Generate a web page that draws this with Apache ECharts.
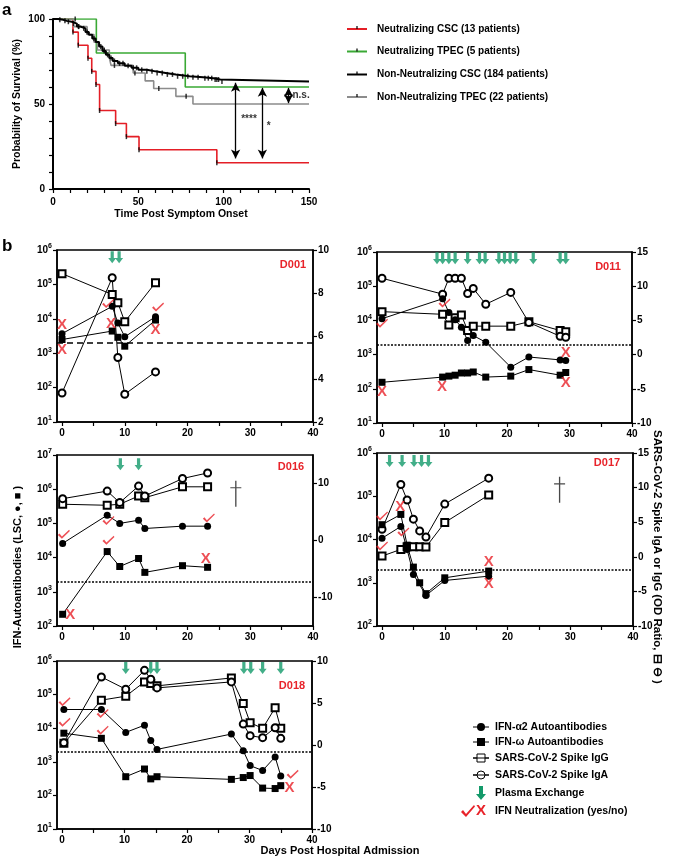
<!DOCTYPE html>
<html><head><meta charset="utf-8">
<script src="https://cdn.jsdelivr.net/npm/echarts@6/dist/echarts.min.js"></script>
<style>html,body{margin:0;padding:0;background:#fff}#c{width:677px;height:861px}</style>
</head><body><div id="c"></div>
<script>
const FONT = '"Liberation Sans", Arial, sans-serif';

// ---------------- Panel a: Kaplan-Meier data ([time, survival %]) ----------------
const redKM   = [[0,100],[11.7,92.3],[14.8,84.6],[20.5,76.9],[22.7,69.2],[25.2,61.5],[27.3,46.2],[36.7,38.5],[43,30.8],[50.4,23.1],[96,15.4],[150,15.4]];
const greenKM = [[0,100],[25.4,80],[77.5,60],[150,60]];
const blackKM = [[0,100],[3,99.5],[6,98.9],[8,98.4],[11,97.3],[14,95.6],[16,94.5],[19,92.3],[21,90.7],[23,88.6],[25,86.5],[27,83.8],[29,81.2],[31,78.9],[33,77],[35,75.3],[38,73.9],[42,72.5],[46,71.3],[50,70.1],[55,69.2],[60,68.3],[66,67.4],[72,66.3],[80,65.8],[88,65.2],[94,64.4],[98,63.3],[150,63.3]];
const grayKM  = [[0,100],[12,95.5],[20,90.9],[24,86.4],[26,81.8],[33,77.3],[34,72.7],[47,68.2],[54,63.6],[59,59.1],[72,54.5],[82,50],[150,50]];
const blackCensor = [4,7,9,12,15,18,20,24,28,30,32,34,36,39,41,44,47,49,52,55,58,61,64,67,70,73,76,79,82,85,89,91,93,95,96,97,99];
const grayCensor = [15,30,36,48,62,78];
const greenCensor = [13];
const redCensor = [11.7,14.8,20.5,22.7,25.2,27.3,36.7,43,50.4,96];
const kmNames = ['Neutralizing CSC (13 patients)','Neutralizing TPEC (5 patients)','Non-Neutralizing CSC (184 patients)','Non-Neutralizing TPEC (22 patients)'];
const sigLabels = [[110,41,'****'],[125,37,'*'],[140,55,'n.s.']];

// ---------------- Panel b data ([day, value]) ----------------
const d001Alpha = [[0,3700],[8,23000],[8.9,7600],[10,3000],[14.9,11500]];
const d001Omega = [[0,2500],[8,4400],[8.9,2900],[10,1600],[14.9,9200]];
const d001IgG   = [[0,8.9],[8,7.93],[8.9,7.55],[10,6.66],[14.9,8.48]];
const d001IgA   = [[0,3.35],[8,8.71],[8.9,5.0],[10,3.29],[14.9,4.33]];
const d001PE    = [8.0,9.1];
const d001Check = [[7.35,28000],[15.3,22000]];
const d001X     = [[0,6600],[0,1230],[7.8,7300],[14.9,4700]];

const d011Alpha = [[0,11200],[9.7,43000],[10.7,17000],[11.7,10500],[12.7,6300],[13.7,2600],[14.6,3600],[16.6,2300],[20.6,430],[23.5,850],[28.5,700],[29.4,670]];
const d011Omega = [[0,155],[9.7,220],[10.7,235],[11.7,250],[12.7,290],[13.7,290],[14.6,310],[16.6,220],[20.6,235],[23.5,365],[28.5,250],[29.4,300]];
const d011IgG   = [[0,6.28],[9.7,5.89],[10.7,4.31],[11.7,5.39],[12.7,5.79],[13.7,3.52],[14.6,4.16],[16.6,4.16],[20.6,4.16],[23.5,4.8],[28.5,3.52],[29.4,3.33]];
const d011IgA   = [[0,11.16],[9.7,8.84],[10.7,11.16],[11.7,11.16],[12.7,11.16],[13.7,8.94],[14.6,9.68],[16.6,7.36],[20.6,9.09],[23.5,4.7],[28.5,2.68],[29.4,2.54]];
const d011PE    = [8.8,9.7,10.7,11.7,13.7,15.6,16.5,18.7,19.6,20.5,21.4,24.2,28.5,29.4];
const d011Check = [[0,8300],[10,32000]];
const d011X     = [[0,83],[9.6,112],[29.4,1100],[29.4,148]];

const d016Alpha = [[0.1,26000],[7.2,174000],[9.2,100000],[12.2,124000],[13.2,71000],[19.2,83000],[23.2,83000]];
const d016Omega = [[0.1,220],[7.2,15000],[9.2,5500],[12.2,9400],[13.2,3700],[19.2,5800],[23.2,5200]];
const d016IgG   = [[0.1,6.36],[7.2,6.18],[9.2,6.36],[12.2,7.8],[13.2,7.51],[19.2,9.42],[23.2,9.42]];
const d016IgA   = [[0.1,7.34],[7.2,8.67],[9.2,6.65],[12.2,9.54],[13.2,7.8],[19.2,10.87],[23.2,11.85]];
const d016PE    = [9.3,12.2];
const d016Check = [[0.3,48000],[7.4,122000],[7.4,32000],[23.4,145000]];
const d016X     = [[1.3,205],[22.9,9300]];
const d016Death = [[27.7,740000]];

const d017Alpha = [[0,10700],[3,20000],[4,5900],[5,1560],[7,510],[10,1130],[17,1420]];
const d017Omega = [[0,22000],[3,38000],[4,7400],[5,2300],[6,1000],[7,560],[10,1300],[17,1860]];
const d017IgG   = [[0,0.1],[3,1.07],[4,1.46],[5,1.46],[6,1.46],[7,1.41],[10,4.95],[17,8.93]];
const d017IgA   = [[0,3.98],[3,10.44],[4,8.2],[5,5.44],[6,3.74],[7,2.86],[10,7.62],[17,11.36]];
const d017PE    = [1.2,3.2,5.1,6.3,7.4];
const d017Check = [[0,35000],[0,7100],[3.4,15000]];
const d017X     = [[2.9,56000],[17,3100],[17,930]];
const d017Death = [[28.3,141000]];

const d018Alpha = [[0.3,36000],[6.3,36000],[10.2,7500],[13.2,12300],[14.2,4300],[15.2,2340],[27.1,6700],[29,2140],[30.1,770],[32.1,550],[34.1,1400],[35,380]];
const d018Omega = [[0.3,7100],[6.3,5000],[10.2,360],[13.2,610],[14.2,310],[15.2,360],[27.1,300],[29,340],[30.1,390],[32.1,165],[34.1,160],[35,195]];
const d018IgG   = [[0.3,0.2],[6.3,5.34],[10.2,5.81],[13.2,7.51],[14.2,7.31],[15.2,7.04],[27.1,7.98],[29,4.94],[30.1,2.65],[32.1,1.98],[34.1,4.43],[35,1.98]];
const d018IgA   = [[0.3,0.28],[6.3,8.1],[10.2,6.64],[13.2,8.89],[14.2,7.83],[15.2,6.8],[27.1,7.51],[29,2.49],[30.1,1.11],[32.1,0.87],[34.1,2.06],[35,0.79]];
const d018PE    = [10.2,14.2,15.2,29.1,30.2,32.1,35.0];
const d018Check = [[0.4,61000],[0.4,15000],[6.5,27500],[6.5,8700],[36.9,425]];
const d018X     = [[36.4,165]];

const threshold = 2000;
const xTicks = [0,5,10,15,20,25,30,35,40];
const xLabels = [0,10,20,30,40];
const legendBNames = ['IFN-\u03b12 Autoantibodies','IFN-\u03c9 Autoantibodies','SARS-CoV-2 Spike IgG','SARS-CoV-2 Spike IgA','Plasma Exchange','IFN Neutralization (yes/no)'];

// ---------------- Build ----------------
const RED = '#e41e26', GREEN = '#3aa935', GRAY = '#8c8c8c', TEAL = '#139a6a', MARKRED = '#e8232a';
const CHECK = 'path://M0,7 L2,5 L5,9 L14,0 L15,1.5 L5,12 Z';
const DOWN = 'path://M3,0 H7 V8 H10 L5,14 L0,8 H3 Z';
const DAGGER = 'path://M4.4,0 H5.6 V28 H4.4 Z M0,7 H10 V8.2 H0 Z';

function kmAt(km, t){ let s = km[0][1]; for (const p of km){ if (p[0] <= t) s = p[1]; else break; } return s; }

const grid = [], xAxis = [], yAxis = [], series = [];
const axLine = {show:true, onZero:false, lineStyle:{color:'#000', width:1.5}};
const axTick = {show:true, length:4, lineStyle:{color:'#000', width:1.2}};
const lab = {color:'#000', fontWeight:'bold', fontSize:10, fontFamily:FONT};

// Panel a
grid.push({left:53, top:19, width:256, height:170});
xAxis.push({gridIndex:0, type:'value', min:0, max:150, interval:10, axisLine:{show:true,onZero:false,lineStyle:{color:'#000',width:2}}, axisTick:axTick, splitLine:{show:false},
  axisLabel:Object.assign({}, lab, {formatter: v => (v % 50 === 0 ? String(v) : '')}),
  name:'Time Post Symptom Onset', nameLocation:'middle', nameGap:20, nameTextStyle:{color:'#000', fontWeight:'bold', fontSize:10.5, fontFamily:FONT}});
yAxis.push({gridIndex:0, type:'value', min:0, max:100, interval:10, axisLine:{show:true,onZero:false,lineStyle:{color:'#000',width:2}}, axisTick:axTick, splitLine:{show:false},
  axisLabel:Object.assign({}, lab, {formatter: v => (v % 50 === 0 ? String(v) : '')}),
  name:'Probability of Survival (%)', nameLocation:'middle', nameGap:30, nameRotate:90, nameTextStyle:{color:'#000', fontWeight:'bold', fontSize:10.5, fontFamily:FONT}});

const kmSets = [[redKM, RED, 1.6],[greenKM, GREEN, 1.6],[grayKM, GRAY, 1.6],[blackKM, '#000', 2]];
kmSets.forEach(([km, col, w]) => {
  series.push({type:'line', xAxisIndex:0, yAxisIndex:0, step:'end', data:km, showSymbol:false, symbol:'none',
    lineStyle:{color:col, width:w}, z:3});
});
[[blackCensor, blackKM],[grayCensor, grayKM],[greenCensor, greenKM],[redCensor, redKM]].forEach(([cs, km]) => {
  series.push({type:'scatter', xAxisIndex:0, yAxisIndex:0, symbol:'rect', symbolSize:[1.5,5],
    itemStyle:{color:'#000'}, data: cs.map(t => [t, kmAt(km, t)]), z:4});
});
series.push({type:'scatter', xAxisIndex:0, yAxisIndex:0, symbolSize:1, itemStyle:{color:'rgba(0,0,0,0)'},
  data: sigLabels,
  label:{show:true, position:'right', distance:0, formatter: p => p.value[2], color:'#000', fontWeight:'bold', fontSize:10, fontFamily:FONT},
  markLine:{silent:true, symbol:['arrow','arrow'], symbolSize:[7,9], label:{show:false},
    lineStyle:{color:'#000', width:1.3, type:'solid'},
    data:[[{coord:[107,62.5]},{coord:[107,18]}],[{coord:[122.7,59.5]},{coord:[122.7,18]}],[{coord:[138,59.5]},{coord:[138,50.5]}]]}
});

// Panel b
const panels = [
  {id:'D001', g:{left:57,top:250,width:256,height:172}, lmin:1e1, lmax:1e6, rmin:2, rmax:10, rint:2, a:d001Alpha, o:d001Omega, gg:d001IgG, ga:d001IgA, pe:d001PE, peY:6.2e5, ck:d001Check, xx:d001X, dash:[6,4], lp:[293,265]},
  {id:'D011', g:{left:377,top:252,width:255,height:171}, lmin:1e1, lmax:1e6, rmin:-10, rmax:15, rint:5, a:d011Alpha, o:d011Omega, gg:d011IgG, ga:d011IgA, pe:d011PE, peY:6.6e5, ck:d011Check, xx:d011X, dash:[2,1.5], lp:[608,267]},
  {id:'D016', g:{left:57,top:455,width:256,height:171}, lmin:1e2, lmax:1e7, rmin:-15, rmax:15, rcustom:[-10,0,10], a:d016Alpha, o:d016Omega, gg:d016IgG, ga:d016IgA, pe:d016PE, peY:5.4e6, ck:d016Check, xx:d016X, death:d016Death, dash:[2,1.5], lp:[291,467]},
  {id:'D017', g:{left:377,top:453,width:256,height:173}, lmin:1e2, lmax:1e6, rmin:-10, rmax:15, rint:5, a:d017Alpha, o:d017Omega, gg:d017IgG, ga:d017IgA, pe:d017PE, peY:6.5e5, ck:d017Check, xx:d017X, death:d017Death, dash:[2,1.5], lp:[607,463]},
  {id:'D018', g:{left:57,top:661,width:255,height:168}, lmin:1e1, lmax:1e6, rmin:-10, rmax:10, rint:5, a:d018Alpha, o:d018Omega, gg:d018IgG, ga:d018IgA, pe:d018PE, peY:6.2e5, ck:d018Check, xx:d018X, dash:[2,1.5], lp:[292,686]}
];

const richLog = {
  b:{fontSize:10, fontWeight:'bold', color:'#000', fontFamily:FONT},
  e:{fontSize:7, fontWeight:'bold', color:'#000', fontFamily:FONT, padding:[0,0,7,0]}
};

panels.forEach((p, k) => {
  const gi = k + 1;
  grid.push(Object.assign({show:true, borderColor:'#000', borderWidth:1.5, backgroundColor:'transparent'}, p.g));
  xAxis.push({gridIndex:gi, type:'value', min:-0.8, max:40, axisLine:axLine, splitLine:{show:false},
    axisTick:Object.assign({}, axTick, {customValues:xTicks}),
    axisLabel:Object.assign({}, lab, {customValues:xLabels, margin:6})});
  const li = yAxis.length;
  yAxis.push({gridIndex:gi, type:'log', logBase:10, min:p.lmin, max:p.lmax, position:'left', axisLine:axLine, axisTick:axTick, splitLine:{show:false}, minorTick:{show:false},
    axisLabel:{margin:5, formatter: v => '{b|10}{e|' + Math.round(Math.log10(v)) + '}', rich:richLog}});
  const ri = yAxis.length;
  const ry = {gridIndex:gi, type:'value', min:p.rmin, max:p.rmax, position:'right', axisLine:axLine, splitLine:{show:false},
    axisTick:Object.assign({}, axTick), axisLabel:Object.assign({}, lab, {margin:5})};
  if (p.rcustom) { ry.axisTick.customValues = p.rcustom; ry.axisLabel.customValues = p.rcustom; }
  else ry.interval = p.rint;
  yAxis.push(ry);

  const base = {type:'line', xAxisIndex:gi, symbolSize:7, lineStyle:{color:'#000', width:1}, z:3};
  series.push(Object.assign({}, base, {yAxisIndex:ri, data:p.gg, symbol:'emptyRect', itemStyle:{color:'#000', borderWidth:1}}));
  series.push(Object.assign({}, base, {yAxisIndex:ri, data:p.ga, symbol:'emptyCircle', itemStyle:{color:'#000', borderWidth:1}}));
  series.push(Object.assign({}, base, {yAxisIndex:li, data:p.o, symbol:'rect', itemStyle:{color:'#000'}}));
  series.push(Object.assign({}, base, {yAxisIndex:li, data:p.a, symbol:'circle', itemStyle:{color:'#000'},
    markLine:{silent:true, symbol:'none', label:{show:false}, lineStyle:{color:'#000', width:1.6, type:p.dash}, data:[{yAxis:threshold}]}}));
  series.push({type:'scatter', xAxisIndex:gi, yAxisIndex:li, symbol:DOWN, symbolSize:[8,12], itemStyle:{color:TEAL},
    data:p.pe.map(d => [d, p.peY]), z:5});
  series.push({type:'scatter', xAxisIndex:gi, yAxisIndex:li, symbol:CHECK, symbolSize:[12,9], itemStyle:{color:MARKRED}, data:p.ck, z:6});
  series.push({type:'scatter', xAxisIndex:gi, yAxisIndex:li, symbolSize:1, itemStyle:{color:'rgba(0,0,0,0)'}, data:p.xx, z:6,
    label:{show:true, position:'inside', formatter:'X', color:MARKRED, fontWeight:'bold', fontSize:15, fontFamily:FONT}});
  if (p.death) series.push({type:'scatter', xAxisIndex:gi, yAxisIndex:li, symbol:DAGGER, symbolSize:[11,26], itemStyle:{color:'#1a1a1a'}, data:p.death, z:5});
});

// ---------------- Graphics ----------------
const graphic = [];
const txt = (x, y, text, o) => ({type:'text', x, y, style:Object.assign({text, fill:'#000', font:'bold 10.5px ' + FONT, align:'left', verticalAlign:'middle'}, o||{})});
graphic.push(txt(2, 10, 'a', {font:'bold 17px ' + FONT}));
graphic.push(txt(2, 246, 'b', {font:'bold 17px ' + FONT}));

const legAY = [29, 51.5, 74.5, 97];
const legACol = [RED, GREEN, '#000', GRAY];
legAY.forEach((y, i) => {
  graphic.push({type:'line', shape:{x1:347, y1:y, x2:367, y2:y}, style:{stroke:legACol[i], lineWidth:2}});
  graphic.push({type:'line', shape:{x1:357, y1:y-3, x2:357, y2:y}, style:{stroke:'#000', lineWidth:1.2}});
  graphic.push(txt(377, y, kmNames[i], {font:'bold 10px ' + FONT}));
});

panels.forEach(p => graphic.push(txt(p.lp[0], p.lp[1], p.id, {fill:MARKRED, font:'bold 11px ' + FONT, align:'center'})));

graphic.push({type:'text', x:18, y:567, rotation:Math.PI/2, style:{text:'IFN-Autoantibodies (LSC, \u25cf, \u25a0 )', fill:'#000', font:'bold 11px ' + FONT, align:'center', verticalAlign:'middle'}});
graphic.push({type:'text', x:657, y:557, rotation:-Math.PI/2, style:{text:'SARS-CoV-2 Spike IgA or IgG (OD Ratio, \u229f \u2296 )', fill:'#000', font:'bold 11.5px ' + FONT, align:'center', verticalAlign:'middle'}});
graphic.push(txt(340, 851, 'Days Post Hospital Admission', {align:'center', font:'bold 11px ' + FONT}));

const legBY = [727, 742, 758, 775, 793, 811];
const mx = 481;
for (let i = 0; i < 4; i++) {
  const y = legBY[i];
  graphic.push({type:'line', shape:{x1:mx-8, y1:y, x2:mx+8, y2:y}, style:{stroke:'#000', lineWidth:1}});
  if (i === 0) graphic.push({type:'circle', shape:{cx:mx, cy:y, r:4}, style:{fill:'#000'}});
  if (i === 1) graphic.push({type:'rect', shape:{x:mx-4, y:y-4, width:8, height:8}, style:{fill:'#000'}});
  if (i === 2) graphic.push({type:'rect', shape:{x:mx-4, y:y-4, width:8, height:8}, style:{fill:'#fff', stroke:'#000', lineWidth:1}});
  if (i === 3) graphic.push({type:'circle', shape:{cx:mx, cy:y, r:4}, style:{fill:'#fff', stroke:'#000', lineWidth:1}});
  if (i >= 2) graphic.push({type:'line', shape:{x1:mx-8, y1:y, x2:mx+8, y2:y}, style:{stroke:'#000', lineWidth:1}});
  graphic.push(txt(495, y, legendBNames[i]));
}
const ay = legBY[4] - 7;
graphic.push({type:'polygon', shape:{points:[[mx-2,ay],[mx+2,ay],[mx+2,ay+8],[mx+5,ay+8],[mx,ay+14],[mx-5,ay+8],[mx-2,ay+8]]}, style:{fill:TEAL}});
graphic.push(txt(495, legBY[4], legendBNames[4]));
const cx0 = 461, cy0 = legBY[5] - 6;
graphic.push({type:'polygon', shape:{points:[[0,7],[2,5],[5,9],[13,0],[14,1.5],[5,12]].map(q => [cx0 + q[0], cy0 + q[1]])}, style:{fill:MARKRED}});
graphic.push(txt(mx, legBY[5], 'X', {fill:MARKRED, font:'bold 15px ' + FONT, align:'center'}));
graphic.push(txt(495, legBY[5], legendBNames[5]));

const chart = echarts.init(document.getElementById('c'), null, {renderer:'canvas'});
chart.setOption({animation:false, backgroundColor:'#fff', textStyle:{fontFamily:FONT}, grid, xAxis, yAxis, series, graphic});
</script></body></html>
